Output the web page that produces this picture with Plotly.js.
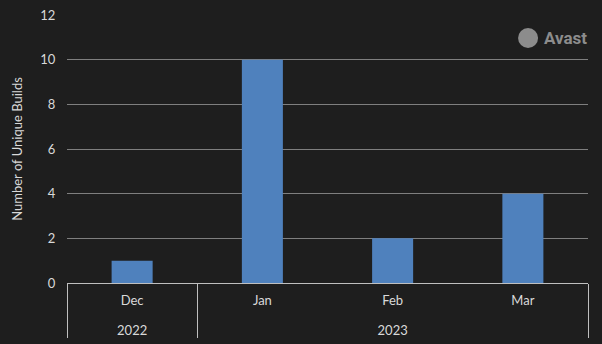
<!DOCTYPE html>
<html>
<head>
<meta charset="utf-8">
<script src="https://cdn.plot.ly/plotly-3.0.1.min.js"></script>
<style>html,body{margin:0;padding:0;background:#1e1e1e;}#chart{width:602px;height:344px;}</style>
</head>
<body>
<div id="chart"></div>
<script>
var years = ["2022", "2023", "2023", "2023"];
var months = ["Dec", "Jan", "Feb", "Mar"];
var builds = [1, 10, 2, 4];
var yTicks = [0, 2, 4, 6, 8, 10, 12];

var trace = {
  type: "bar",
  x: [years, months],
  y: builds,
  marker: {color: "#4f81bd", line: {width: 0}},
  hoverinfo: "skip"
};

var layout = {
  width: 602,
  height: 344,
  paper_bgcolor: "#1e1e1e",
  plot_bgcolor: "#1e1e1e",
  margin: {l: 67, r: 14, t: 15, b: 61},
  bargap: 0.685,
  showlegend: false,
  font: {family: "Lato, 'Open Sans', sans-serif", color: "#d9d9d9", size: 13},
  xaxis: {
    type: "multicategory",
    showgrid: false,
    showline: true,
    linecolor: "#bfbfbf",
    linewidth: 1,
    showdividers: true,
    dividercolor: "#bfbfbf",
    dividerwidth: 1,
    ticks: "outside",
    ticklen: 11,
    tickcolor: "rgba(0,0,0,0)",
    ticklabelstandoff: 5,
    ticksuffix: "<br> ",
    tickfont: {size: 13, color: "#d9d9d9"},
    automargin: false,
    zeroline: false
  },
  yaxis: {
    range: [0, 12],
    tickvals: yTicks,
    ticktext: yTicks.map(String),
    showgrid: true,
    gridcolor: "#7f7f7f",
    gridwidth: 1,
    zeroline: false,
    showline: false,
    ticks: "outside",
    ticklen: 8,
    tickcolor: "#1e1e1e",
    tickfont: {size: 13, color: "#d9d9d9"},
    automargin: false,
    title: {text: "Number of Unique Builds", font: {size: 13, color: "#d9d9d9"}, standoff: 14}
  },
  shapes: [
    {type: "circle", xref: "paper", yref: "paper", xsizemode: "pixel", ysizemode: "pixel",
     xanchor: 0.885, yanchor: 0.914, x0: -10, x1: 10, y0: -10, y1: 10,
     fillcolor: "#8c8c8c", line: {width: 0}}
  ],
  annotations: [
    {xref: "paper", yref: "paper", x: 0.912, y: 0.914, xanchor: "left", yanchor: "middle",
     text: "<b>Avast</b>", showarrow: false, font: {family: "Roboto, 'Liberation Sans', sans-serif", size: 17, color: "#8c8c8c"}}
  ]
};

Plotly.newPlot("chart", [trace], layout, {displayModeBar: false, staticPlot: true});
</script>
</body>
</html>
